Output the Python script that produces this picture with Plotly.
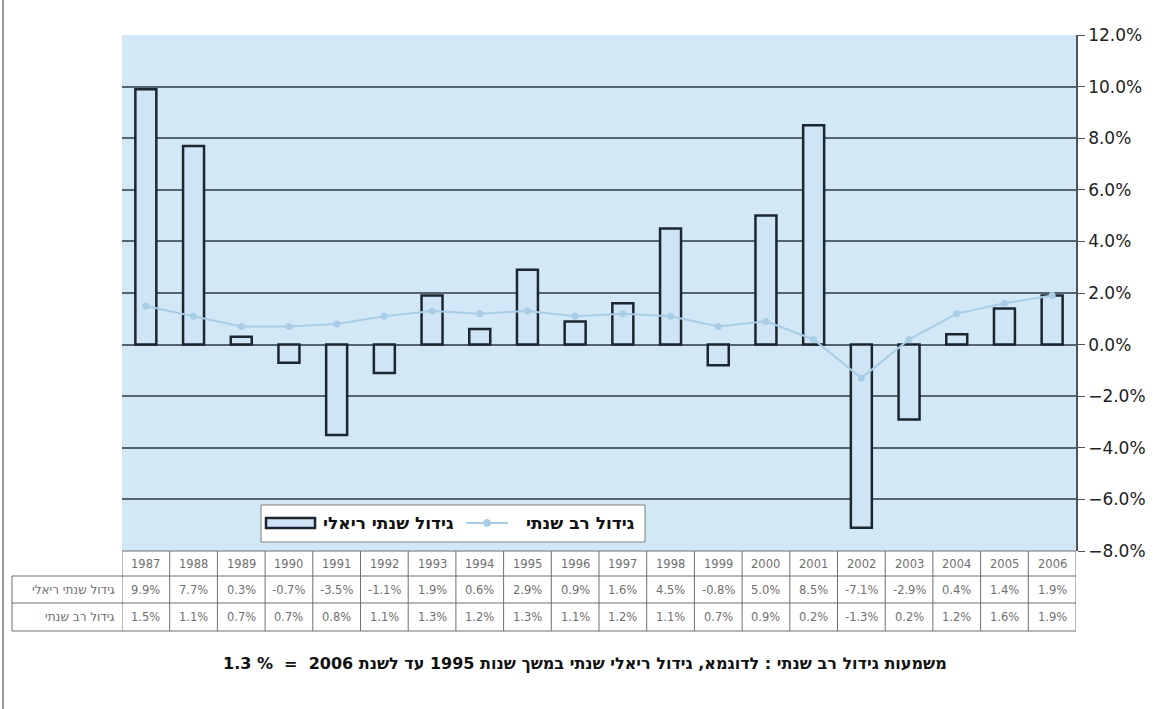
import plotly.graph_objects as go

# Annual data, 1987-2006
years = ["1987", "1988", "1989", "1990", "1991", "1992", "1993", "1994", "1995", "1996",
         "1997", "1998", "1999", "2000", "2001", "2002", "2003", "2004", "2005", "2006"]
real_growth = [9.9, 7.7, 0.3, -0.7, -3.5, -1.1, 1.9, 0.6, 2.9, 0.9,
               1.6, 4.5, -0.8, 5.0, 8.5, -7.1, -2.9, 0.4, 1.4, 1.9]
multi_year_growth = [1.5, 1.1, 0.7, 0.7, 0.8, 1.1, 1.3, 1.2, 1.3, 1.1,
                     1.2, 1.1, 0.7, 0.9, 0.2, -1.3, 0.2, 1.2, 1.6, 1.9]

name_real = "גידול שנתי ריאלי"
name_multi = "גידול רב שנתי"
footnote = "משמעות גידול רב שנתי : לדוגמא, גידול ריאלי שנתי במשך שנות 1995 עד לשנת 2006  =  % 1.3"

W, H = 1160, 709
ML, MR, MT, MB = 122, 84, 35, 158
PW, PH = W - ML - MR, H - MT - MB

BAR_FILL = "#cfe5f5"
BAR_EDGE = "#1b2631"
LINE_COL = "#a8cde6"
GRID_COL = "#56646f"
TABLE_COL = "#6f6f6f"
TEXT_GRAY = "#707070"
FONT = "DejaVu Sans, Arial"


def px_x(p):
    return (p - ML) / PW


def px_y(p):
    return (H - MB - p) / PH


idx = list(range(len(years)))

fig = go.Figure()
fig.add_trace(go.Bar(
    x=idx, y=real_growth, name=name_real, width=0.44,
    marker=dict(color=BAR_FILL, line=dict(color=BAR_EDGE, width=2.5)),
    showlegend=False,
))
fig.add_trace(go.Scatter(
    x=idx, y=multi_year_growth, name=name_multi, mode="lines+markers",
    line=dict(color=LINE_COL, width=2),
    marker=dict(color=LINE_COL, size=7),
    showlegend=False,
))

shapes = []
annotations = []

# data table under the plot
row_top = [551, 576, 603, 631]
n = len(years)
# horizontal rules
shapes.append(dict(type="line", xref="x", yref="paper", x0=-0.5, x1=n - 0.5,
                   y0=px_y(row_top[0]), y1=px_y(row_top[0]),
                   line=dict(color=TABLE_COL, width=1)))
for r in row_top[1:]:
    shapes.append(dict(type="line", xref="paper", yref="paper", x0=px_x(12), x1=1,
                       y0=px_y(r), y1=px_y(r), line=dict(color=TABLE_COL, width=1)))
# vertical rules
for i in range(n + 1):
    shapes.append(dict(type="line", xref="x", yref="paper", x0=i - 0.5, x1=i - 0.5,
                       y0=px_y(row_top[0]), y1=px_y(row_top[3]),
                       line=dict(color=TABLE_COL, width=1)))
shapes.append(dict(type="line", xref="paper", yref="paper", x0=px_x(12), x1=px_x(12),
                   y0=px_y(row_top[1]), y1=px_y(row_top[3]),
                   line=dict(color=TABLE_COL, width=1)))

tfont = dict(family=FONT, size=11.5, color=TEXT_GRAY)
row_rows = [
    (years, None),
    ([f"{v:.1f}%" for v in real_growth], name_real),
    ([f"{v:.1f}%" for v in multi_year_growth], name_multi),
]
for k, (cells, label) in enumerate(row_rows):
    yc = px_y((row_top[k] + row_top[k + 1]) / 2)
    for i, txt in enumerate(cells):
        annotations.append(dict(x=i, y=yc, xref="x", yref="paper", text=txt,
                                showarrow=False, font=tfont, xanchor="center", yanchor="middle"))
    if label:
        annotations.append(dict(x=px_x(117), y=yc, xref="paper", yref="paper", text=label,
                                showarrow=False, font=dict(family=FONT, size=12, color=TEXT_GRAY),
                                xanchor="right", yanchor="middle"))

# legend box
shapes.append(dict(type="rect", xref="paper", yref="paper",
                   x0=px_x(261), x1=px_x(645), y0=px_y(542), y1=px_y(505),
                   fillcolor="white", line=dict(color="#7e7e7e", width=1), layer="above"))
shapes.append(dict(type="rect", xref="paper", yref="paper",
                   x0=px_x(266), x1=px_x(315), y0=px_y(528), y1=px_y(518),
                   fillcolor=BAR_FILL, line=dict(color=BAR_EDGE, width=2.5), layer="above"))
shapes.append(dict(type="line", xref="paper", yref="paper",
                   x0=px_x(466), x1=px_x(508), y0=px_y(523), y1=px_y(523),
                   line=dict(color=LINE_COL, width=2), layer="above"))
shapes.append(dict(type="circle", xref="paper", yref="paper",
                   x0=px_x(483.5), x1=px_x(490.5), y0=px_y(526.5), y1=px_y(519.5),
                   fillcolor=LINE_COL, line=dict(color=LINE_COL, width=1), layer="above"))
lfont = dict(family=FONT, size=17, color="#111111")
annotations.append(dict(x=px_x(456), y=px_y(523), xref="paper", yref="paper",
                        text="<b>" + name_real + "</b>", showarrow=False, font=lfont,
                        xanchor="right", yanchor="middle"))
annotations.append(dict(x=px_x(637), y=px_y(523), xref="paper", yref="paper",
                        text="<b>" + name_multi + "</b>", showarrow=False, font=lfont,
                        xanchor="right", yanchor="middle"))

# footnote
annotations.append(dict(x=px_x(585), y=px_y(663), xref="paper", yref="paper",
                        text="<b>\u202b" + footnote + "\u202c</b>", showarrow=False,
                        font=dict(family=FONT, size=16, color="#111111"),
                        xanchor="center", yanchor="middle"))

# outer frame edge on the left
shapes.append(dict(type="line", xref="paper", yref="paper",
                   x0=px_x(3), x1=px_x(3), y0=px_y(H), y1=px_y(0),
                   line=dict(color="#9a9a9a", width=2)))

fig.update_layout(
    width=W, height=H,
    margin=dict(l=ML, r=MR, t=MT, b=MB, pad=0),
    paper_bgcolor="white",
    plot_bgcolor="#d3e8f7",
    bargap=0.56,
    shapes=shapes,
    annotations=annotations,
    xaxis=dict(range=[-0.5, n - 0.5], showticklabels=False, showgrid=False,
               zeroline=False, ticks="", showline=False, fixedrange=True),
    yaxis=dict(side="right", range=[-8, 12], dtick=2, tickformat=".1f", ticksuffix="%",
               showgrid=True, gridcolor=GRID_COL, gridwidth=2,
               zeroline=True, zerolinecolor=GRID_COL, zerolinewidth=2,
               showline=True, linecolor="#4a5560", linewidth=1.5,
               ticks="outside", ticklen=7, tickcolor="#4a5560",
               tickfont=dict(family=FONT, size=17, color="#222222")),
    showlegend=False,
)

fig.write_html("out.html")
